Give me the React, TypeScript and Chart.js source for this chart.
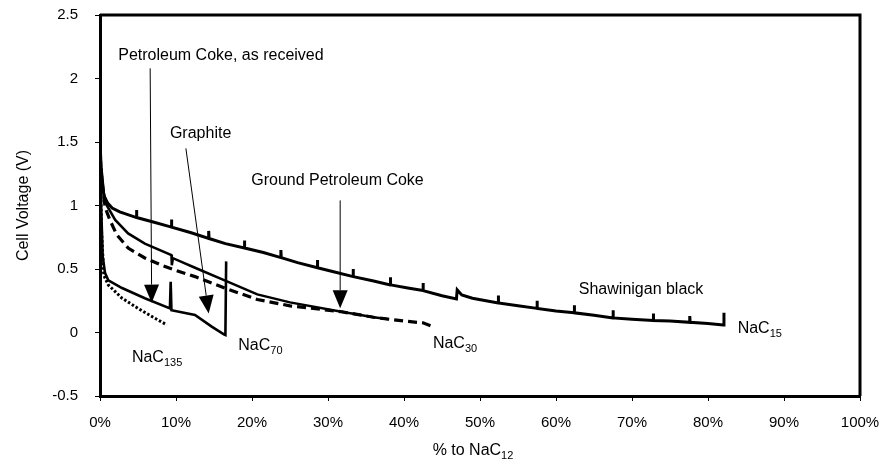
import React, { useEffect, useRef } from 'react';
import { Chart, registerables } from 'chart.js';

Chart.register(...registerables);

const FONT = '"Liberation Sans", Arial, Helvetica, sans-serif';

// ---- data (x = % to NaC12, y = cell voltage in V) ----
const shawX = [0, 0.15, 0.5, 1, 1.6, 2.6, 4.8, 4.8, 4.85, 7, 9.4, 9.4, 9.45, 12, 14.3, 14.3, 14.35, 16.5, 19, 19, 19.05, 21.5, 23.8, 23.8, 23.85, 26, 28.6, 28.6, 28.65, 31, 33.3, 33.3, 33.35, 36, 38.2, 38.2, 38.25, 40.5, 42.5, 42.5, 42.55, 45, 46.9, 47.0, 47.6, 49, 52.4, 52.4, 52.45, 55, 57.5, 57.5, 57.55, 60, 62.4, 62.4, 62.45, 65, 67.5, 67.5, 67.55, 70, 72.8, 72.8, 72.85, 75, 77.6, 77.6, 77.65, 80, 82, 82.1];
const shawY = [1.5, 1.3, 1.08, 1.02, 0.98, 0.95, 0.905, 0.965, 0.905, 0.87, 0.83, 0.89, 0.83, 0.785, 0.74, 0.8, 0.74, 0.7, 0.665, 0.725, 0.665, 0.63, 0.59, 0.65, 0.59, 0.55, 0.51, 0.57, 0.51, 0.475, 0.44, 0.5, 0.44, 0.405, 0.375, 0.435, 0.375, 0.35, 0.33, 0.39, 0.33, 0.29, 0.265, 0.335, 0.295, 0.27, 0.232, 0.292, 0.232, 0.21, 0.19, 0.25, 0.19, 0.17, 0.155, 0.215, 0.155, 0.135, 0.115, 0.175, 0.115, 0.105, 0.095, 0.15, 0.095, 0.09, 0.08, 0.13, 0.08, 0.07, 0.06, 0.155];

const groundX = [0, 0.2, 0.5, 0.9, 2, 3.7, 5.9, 9.4, 9.45, 9.6, 12.5, 16.4, 20.7, 25, 31.6, 36, 38];
const groundY = [1.45, 1.25, 1.1, 1.0, 0.886, 0.78, 0.7, 0.61, 0.53, 0.585, 0.51, 0.41, 0.3, 0.237, 0.165, 0.12, 0.105];

const groundDashX = [0, 0.3, 0.7, 1.3, 2.2, 3.7, 5.9, 8.1, 9.9, 12.5, 16.4, 20.7, 25, 31.6, 36, 40, 42.5, 43.8];
const groundDashY = [1.4, 1.15, 0.98, 0.886, 0.77, 0.665, 0.587, 0.53, 0.49, 0.44, 0.35, 0.26, 0.21, 0.165, 0.12, 0.09, 0.076, 0.047];

const graphX = [0, 0.15, 0.35, 0.66, 1.1, 2.9, 5.9, 9.2, 9.3, 9.4, 12.5, 14.7, 16.3, 16.5, 16.6];
const graphY = [1.45, 1.0, 0.6, 0.47, 0.41, 0.35, 0.27, 0.19, 0.4, 0.175, 0.138, 0.046, -0.015, -0.02, 0.56];

const cokeX = [0, 0.2, 0.5, 1.1, 2.9, 5, 7, 8.8];
const cokeY = [1.4, 0.8, 0.45, 0.374, 0.27, 0.19, 0.12, 0.06];

// ---- annotations (data coordinates) ----
const noteText = ['Petroleum Coke, as received', 'Graphite', 'Ground Petroleum Coke', 'Shawinigan black'];
const noteX = [2.4, 9.2, 19.9, 63.0];
const noteY = [2.177, 1.563, 1.193, 0.335];

const arrowFromX = [6.6, 11.3, 31.6];
const arrowFromY = [2.08, 1.45, 1.04];
const arrowToX = [6.8, 14.3, 31.6];
const arrowToY = [0.235, 0.15, 0.19];

const phaseMain = ['NaC', 'NaC', 'NaC', 'NaC'];
const phaseSub = ['135', '70', '30', '15'];
const phaseX = [4.2, 18.2, 43.8, 83.9];
const phaseY = [-0.197, -0.106, -0.09, 0.03];

const xTitleMain = '% to NaC';
const xTitleSub = '12';
const yTitle = 'Cell Voltage (V)';

const pts = (xs: number[], ys: number[]) => xs.map((x, i) => ({ x, y: ys[i] }));

function drawSub(ctx: CanvasRenderingContext2D, x: number, y: number, main: string, sub: string) {
  ctx.font = `16px ${FONT}`;
  ctx.textAlign = 'left';
  ctx.textBaseline = 'middle';
  ctx.fillText(main, x, y);
  const w = ctx.measureText(main).width;
  ctx.font = `11px ${FONT}`;
  ctx.fillText(sub, x + w, y + 5);
}

const annotPlugin = {
  id: 'annot',
  afterDatasetsDraw(chart: any) {
    const { ctx, chartArea: a, scales } = chart;
    const xs = scales.x;
    const ys = scales.y;
    ctx.save();
    ctx.strokeStyle = '#000';
    ctx.fillStyle = '#000';
    // frame: top and right
    ctx.lineWidth = 3;
    ctx.beginPath();
    ctx.moveTo(a.left, a.top);
    ctx.lineTo(a.right, a.top);
    ctx.lineTo(a.right, a.bottom);
    ctx.stroke();

    // arrows
    for (let i = 0; i < arrowFromX.length; i++) {
      const x1 = xs.getPixelForValue(arrowFromX[i]);
      const y1 = ys.getPixelForValue(arrowFromY[i]);
      const x2 = xs.getPixelForValue(arrowToX[i]);
      const y2 = ys.getPixelForValue(arrowToY[i]);
      const len = Math.hypot(x2 - x1, y2 - y1);
      const dx = (x2 - x1) / len;
      const dy = (y2 - y1) / len;
      const hl = 18;
      const hw = 7.5;
      const bx = x2 - dx * hl;
      const by = y2 - dy * hl;
      ctx.lineWidth = 1;
      ctx.beginPath();
      ctx.moveTo(x1, y1);
      ctx.lineTo(bx, by);
      ctx.stroke();
      ctx.beginPath();
      ctx.moveTo(x2, y2);
      ctx.lineTo(bx - dy * hw, by + dx * hw);
      ctx.lineTo(bx + dy * hw, by - dx * hw);
      ctx.closePath();
      ctx.fill();
    }

    // notes
    ctx.font = `16px ${FONT}`;
    ctx.textAlign = 'left';
    ctx.textBaseline = 'middle';
    for (let i = 0; i < noteText.length; i++) {
      ctx.fillText(noteText[i], xs.getPixelForValue(noteX[i]), ys.getPixelForValue(noteY[i]));
    }
    // phase labels
    for (let i = 0; i < phaseMain.length; i++) {
      drawSub(ctx, xs.getPixelForValue(phaseX[i]), ys.getPixelForValue(phaseY[i]), phaseMain[i], phaseSub[i]);
    }
    // x axis title with subscript
    ctx.font = `16px ${FONT}`;
    const wm = ctx.measureText(xTitleMain).width;
    ctx.font = `11px ${FONT}`;
    const ws = ctx.measureText(xTitleSub).width;
    const cx = (a.left + a.right) / 2 - 7;
    drawSub(ctx, cx - (wm + ws) / 2, 451, xTitleMain, xTitleSub);
    ctx.restore();
  },
};

export default function App() {
  const ref = useRef<HTMLCanvasElement | null>(null);
  useEffect(() => {
    if (!ref.current) return;
    Chart.defaults.color = '#000';
    Chart.defaults.font.family = FONT;
    const common = { showLine: true, pointRadius: 0, borderColor: '#000', backgroundColor: '#000', tension: 0, fill: false };
    const chart = new Chart(ref.current, {
      type: 'scatter',
      data: {
        datasets: [
          { ...common, label: 'Shawinigan black', data: pts(shawX, shawY), borderWidth: 3 },
          { ...common, label: 'Ground Petroleum Coke', data: pts(groundX, groundY), borderWidth: 2.5 },
          { ...common, label: 'Ground Petroleum Coke (2)', data: pts(groundDashX, groundDashY), borderWidth: 3.2, borderDash: [9, 5] },
          { ...common, label: 'Graphite', data: pts(graphX, graphY), borderWidth: 2.6 },
          { ...common, label: 'Petroleum Coke, as received', data: pts(cokeX, cokeY), borderWidth: 3, borderDash: [2.5, 2] },
        ],
      },
      options: {
        animation: false,
        responsive: true,
        maintainAspectRatio: false,
        layout: { padding: { left: 0, right: 24, top: 15, bottom: 0 } },
        plugins: { legend: { display: false }, tooltip: { enabled: false } },
        scales: {
          x: {
            type: 'linear',
            min: 0,
            max: 100,
            afterFit: (s: any) => { s.height = 68; s.paddingLeft = 0; s.paddingRight = 0; },
            ticks: { stepSize: 10, padding: 13, font: { size: 15 }, color: '#000', callback: (v: any) => `${v}%` },
            grid: { display: true, drawOnChartArea: false, drawTicks: true, tickLength: 5, color: '#000', lineWidth: 1 },
            border: { display: true, color: '#000', width: 3 },
          },
          y: {
            type: 'linear',
            min: -0.5,
            max: 2.5,
            afterFit: (s: any) => { s.width = 100; s.paddingTop = 0; s.paddingBottom = 0; },
            ticks: { stepSize: 0.5, padding: 17, font: { size: 15 }, color: '#000', callback: (v: any) => `${Math.round(Number(v) * 10) / 10}` },
            grid: { display: true, drawOnChartArea: false, drawTicks: true, tickLength: 5, color: '#000', lineWidth: 1 },
            border: { display: true, color: '#000', width: 3 },
            title: { display: true, text: yTitle, font: { size: 16 }, color: '#000', padding: { top: 14, bottom: 0 } },
          },
        },
      },
      plugins: [annotPlugin],
    } as any);
    return () => chart.destroy();
  }, []);
  return (
    <div style={{ position: 'absolute', left: 0, top: 0, width: 884, height: 464, background: '#fff' }}>
      <canvas ref={ref} />
    </div>
  );
}
